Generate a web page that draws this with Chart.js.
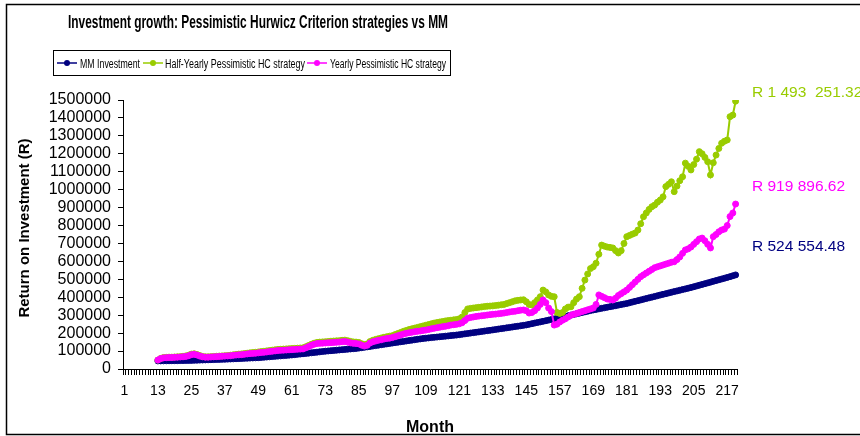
<!DOCTYPE html>
<html>
<head>
<meta charset="utf-8">
<script src="https://cdn.jsdelivr.net/npm/chart.js@4.4.1/dist/chart.umd.min.js"></script>
<style>
  html, body { margin: 0; padding: 0; background: #fff; }
  #wrap { width: 860px; height: 436px; position: relative; }
</style>
</head>
<body>
<div id="wrap"><canvas id="growthChart" width="860" height="436"></canvas></div>
<script>
// months on the category axis, series start at month 13
const months = Array.from({ length: 220 }, (_, i) => String(i + 1));
const firstMonth = 13;

const mmInvestment = [
    45000, 45300, 45500, 45800, 46000, 46200, 46500, 46700, 47000, 47200, 47500, 47800,
    48000, 48600, 49100, 49700, 50200, 50800, 51300, 51900, 52400, 53000, 53500, 54000,
    54500, 55200, 55900, 56600, 57300, 58000, 58800, 59500, 60300, 61000, 61800, 62500,
    63300, 64500, 65700, 67000, 68200, 69500, 70800, 72000, 73300, 74600, 75900, 77200,
    78500, 80100, 81800, 83400, 85100, 86800, 88500, 90200, 92000, 93800, 95600, 97400,
    99200, 100600, 102000, 103400, 104800, 106200, 107600, 109000, 110400, 111800, 113200, 114600,
    116500, 118800, 121100, 123400, 125700, 128000, 130400, 132800, 135200, 137600, 140000, 142400,
    144800, 147100, 149400, 151700, 154000, 156300, 158600, 160900, 163200, 165500, 167800, 170000,
    171800, 173400, 175000, 176600, 178200, 179800, 181400, 183000, 184600, 186200, 187800, 189400,
    191500, 193700, 195900, 198100, 200300, 202500, 204700, 206900, 209100, 211300, 213500, 215700,
    218000, 220300, 222600, 224900, 227200, 229500, 231800, 234100, 236400, 238700, 241000, 243300,
    246000, 249300, 252600, 256000, 259300, 262600, 266000, 269300, 272600, 276000, 279300, 282600,
    286000, 289600, 293200, 296900, 300500, 304200, 307800, 311400, 315000, 318600, 322200, 325800,
    329300, 332300, 335300, 338300, 341300, 344300, 347300, 350300, 353300, 356300, 359300, 362300,
    365500, 369400, 373300, 377200, 381100, 385000, 389000, 392900, 396800, 400700, 404600, 408500,
    412500, 416300, 420100, 423900, 427700, 431500, 435300, 439100, 442900, 446700, 450500, 454300,
    458500, 462800, 467100, 471400, 475800, 480100, 484400, 488700, 493000, 497400, 501700, 506000,
    510400, 515000, 519800, 524554.48
];

const halfYearlyHC = [
    50000, 59000, 64000, 65000, 66000, 66000, 67000, 68000, 69000, 71000, 73000, 77000,
    83000, 85000, 81000, 75000, 70000, 68000, 68000, 69000, 70000, 71000, 72000, 73000,
    74000, 75000, 77000, 79000, 81000, 83000, 84000, 86000, 88000, 90000, 92000, 93000,
    95000, 97000, 99000, 101000, 103000, 105000, 107000, 109000, 110000, 111000, 112000, 113000,
    114000, 115000, 116000, 117000, 118000, 124000, 131000, 138000, 144000, 148000, 150000, 151000,
    152000, 153000, 155000, 156000, 157000, 158000, 160000, 161000, 158000, 154000, 151000, 150000,
    148000, 141000, 136000, 140000, 153000, 160000, 165000, 169000, 173000, 177000, 180000, 183000,
    186000, 192000, 198000, 204000, 210000, 215000, 220000, 224000, 228000, 232000, 236000, 240000,
    244000, 248000, 252000, 256000, 259000, 262000, 265000, 268000, 270000, 272000, 274000, 276000,
    280000, 290000, 315000, 335000, 338000, 340000, 342000, 344000, 346000, 348000, 350000, 351000,
    352000, 354000, 356000, 358000, 360000, 365000, 370000, 375000, 380000, 383000, 385000, 386000,
    375000, 360000, 357000, 370000, 385000, 403000, 440000, 430000, 413000, 405000, 403000, 315000,
    310000, 315000, 335000, 345000, 347000, 370000, 390000, 403000, 450000, 496000, 530000, 560000,
    570000, 590000, 640000, 691000, 685000, 680000, 678000, 675000, 660000, 647000, 660000, 700000,
    738000, 745000, 752000, 758000, 775000, 810000, 849000, 870000, 890000, 905000, 914000, 930000,
    942000, 960000, 1017000, 1030000, 1044000, 989000, 1020000, 1050000, 1072000, 1148000, 1130000, 1110000,
    1140000, 1170000, 1212000, 1200000, 1180000, 1156000, 1082000, 1150000, 1193000, 1230000, 1259000, 1270000,
    1277000, 1407000, 1416000, 1493251.32
];

const yearlyHC = [
    50000, 58000, 62000, 63000, 64000, 64000, 65000, 66000, 67000, 68000, 70000, 74000,
    80000, 82000, 78000, 72000, 68000, 66000, 66000, 67000, 68000, 69000, 70000, 71000,
    72000, 73000, 74000, 76000, 78000, 79000, 80000, 82000, 84000, 86000, 87000, 88000,
    90000, 92000, 93000, 95000, 97000, 99000, 101000, 103000, 104000, 105000, 106000, 107000,
    108000, 109000, 110000, 111000, 112000, 118000, 125000, 132000, 138000, 142000, 143000, 144000,
    145000, 146000, 147000, 148000, 149000, 150000, 152000, 153000, 150000, 146000, 143000, 142000,
    140000, 133000, 128000, 132000, 145000, 152000, 156000, 160000, 163000, 167000, 170000, 172000,
    175000, 180000, 185000, 190000, 195000, 199000, 202000, 205000, 208000, 210000, 212000, 215000,
    217000, 220000, 224000, 227000, 230000, 233000, 236000, 238000, 241000, 245000, 247000, 249000,
    252000, 258000, 270000, 283000, 287000, 290000, 293000, 295000, 297000, 299000, 301000, 303000,
    305000, 306000, 308000, 310000, 312000, 315000, 318000, 320000, 322000, 325000, 328000, 329000,
    325000, 312000, 315000, 325000, 340000, 360000, 385000, 370000, 340000, 320000, 245000, 250000,
    262000, 272000, 280000, 290000, 300000, 305000, 310000, 315000, 320000, 325000, 330000, 335000,
    340000, 360000, 413000, 405000, 398000, 390000, 388000, 385000, 395000, 410000, 420000, 430000,
    440000, 455000, 470000, 485000, 500000, 515000, 525000, 535000, 545000, 555000, 565000, 570000,
    575000, 580000, 585000, 590000, 595000, 598000, 610000, 625000, 645000, 664000, 670000, 680000,
    695000, 710000, 725000, 730000, 715000, 695000, 675000, 738000, 750000, 765000, 775000, 780000,
    800000, 850000, 870000, 919896.62
];

const seriesNames = ["MM Investment", "Half-Yearly Pessimistic HC strategy", "Yearly Pessimistic HC strategy"];
const seriesColors = ["#000080", "#99CC00", "#FF00FF"];
const endLabels = ["R 524 554.48", "R 1 493  251.32", "R 919 896.62"];

const FONT = "'Liberation Sans', Arial, sans-serif";

function padSeries(values) {
    return Array(firstMonth - 1).fill(null).concat(values);
}

function makeDataset(i, values, order) {
    return {
        label: seriesNames[i],
        data: padSeries(values),
        borderColor: seriesColors[i],
        backgroundColor: seriesColors[i],
        pointBackgroundColor: seriesColors[i],
        pointBorderColor: seriesColors[i],
        pointRadius: 3,
        pointBorderWidth: 1,
        borderWidth: 2,
        tension: 0,
        order: order
    };
}

// title, legend box, axis titles, end labels and the outer frame
const decorPlugin = {
    id: "decor",
    afterDraw(chart) {
        const ctx = chart.ctx;
        ctx.save();

        ctx.strokeStyle = "#000";
        ctx.lineWidth = 1.5;
        ctx.beginPath();
        ctx.moveTo(860, 4.5);
        ctx.lineTo(6.5, 4.5);
        ctx.lineTo(6.5, 434.5);
        ctx.lineTo(860, 434.5);
        ctx.stroke();

        ctx.fillStyle = "#000";
        ctx.textAlign = "left";
        ctx.textBaseline = "alphabetic";
        ctx.font = "bold 18px " + FONT;
        ctx.fillText("Investment growth: Pessimistic Hurwicz Criterion strategies vs MM", 68, 28, 380);

        // legend box
        ctx.lineWidth = 1;
        ctx.strokeRect(53.5, 50.5, 397, 25);
        const items = [
            { x: 57, textX: 80, w: 60 },
            { x: 143, textX: 165, w: 140 },
            { x: 307, textX: 330, w: 116 }
        ];
        ctx.font = "12.5px " + FONT;
        items.forEach((it, i) => {
            ctx.strokeStyle = seriesColors[i];
            ctx.fillStyle = seriesColors[i];
            ctx.lineWidth = 1.5;
            ctx.beginPath();
            ctx.moveTo(it.x, 63);
            ctx.lineTo(it.x + 20, 63);
            ctx.stroke();
            ctx.beginPath();
            ctx.arc(it.x + 10, 63, 3, 0, Math.PI * 2);
            ctx.fill();
            ctx.fillStyle = "#000";
            ctx.fillText(seriesNames[i], it.textX, 67.5, it.w);
        });

        // axis titles
        ctx.fillStyle = "#000";
        ctx.font = "bold 16px " + FONT;
        ctx.textAlign = "center";
        ctx.fillText("Month", 430, 432);
        ctx.save();
        ctx.translate(29, 228);
        ctx.rotate(-Math.PI / 2);
        ctx.font = "bold 15px " + FONT;
        ctx.fillText("Return on Investment (R)", 0, 0, 212);
        ctx.restore();

        // final values
        ctx.textAlign = "left";
        ctx.font = "15.5px " + FONT;
        const labelY = [251, 97, 191];
        endLabels.forEach((t, i) => {
            ctx.fillStyle = seriesColors[i];
            ctx.fillText(t, 752, labelY[i]);
        });

        ctx.restore();
    }
};

new Chart(document.getElementById("growthChart"), {
    type: "line",
    data: {
        labels: months,
        datasets: [
            makeDataset(0, mmInvestment, 3),
            makeDataset(1, halfYearlyHC, 2),
            makeDataset(2, yearlyHC, 1)
        ]
    },
    options: {
        responsive: false,
        animation: false,
        spanGaps: false,
        layout: { padding: { left: 0, top: 100, right: 123, bottom: 0 } },
        plugins: {
            legend: { display: false },
            title: { display: false },
            tooltip: { enabled: false }
        },
        scales: {
            x: {
                type: "category",
                offset: true,
                grid: { display: true, drawOnChartArea: false, drawTicks: true, tickLength: 6, color: "#000", offset: true },
                border: { display: true, color: "#000", width: 1 },
                ticks: {
                    autoSkip: false,
                    maxRotation: 0,
                    minRotation: 0,
                    padding: 8,
                    color: "#000",
                    font: { family: FONT, size: 14 },
                    callback: function(val, i) {
                        return i % 12 === 0 ? this.getLabelForValue(val) : "";
                    }
                },
                afterFit: function(scale) { scale.height = 67; }
            },
            y: {
                min: 0,
                max: 1500000,
                grid: { display: true, drawOnChartArea: false, drawTicks: true, tickLength: 5, color: "#000" },
                border: { display: true, color: "#000", width: 1 },
                ticks: {
                    stepSize: 100000,
                    autoSkip: false,
                    padding: 7,
                    color: "#000",
                    font: { family: FONT, size: 16 },
                    callback: v => String(v)
                },
                afterFit: function(scale) { scale.width = 123; }
            }
        }
    },
    plugins: [decorPlugin]
});
</script>
</body>
</html>
